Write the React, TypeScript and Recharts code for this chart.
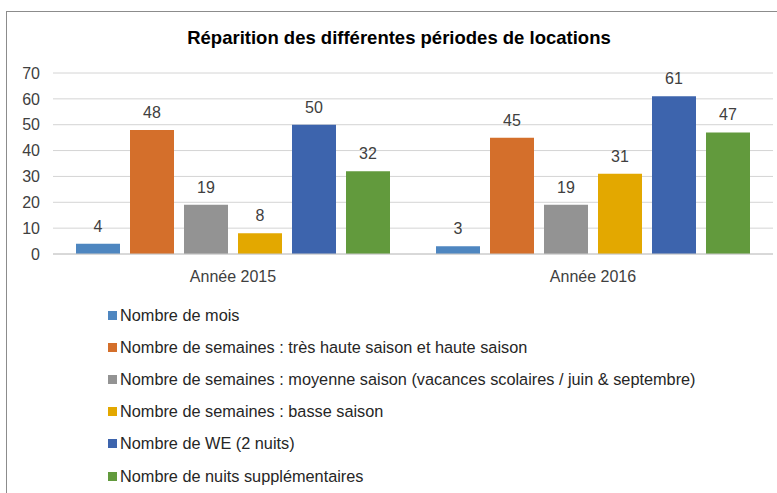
import { BarChart, Bar, XAxis, YAxis, CartesianGrid, Legend, LabelList } from 'recharts'

const annees = ['Année 2015', 'Année 2016']
const nbMois = [4, 3]
const semainesHaute = [48, 45]
const semainesMoyenne = [19, 19]
const semainesBasse = [8, 31]
const weekEnds = [50, 61]
const nuitsSupp = [32, 47]
const yTicks = [0, 10, 20, 30, 40, 50, 60, 70]

const series = [
  { key: 'mois', nom: 'Nombre de mois', valeurs: nbMois, couleur: '#4e86c0' },
  { key: 'haute', nom: 'Nombre de semaines : très haute saison et haute saison', valeurs: semainesHaute, couleur: '#d46f2b' },
  { key: 'moyenne', nom: 'Nombre de semaines : moyenne saison (vacances scolaires / juin & septembre)', valeurs: semainesMoyenne, couleur: '#939393' },
  { key: 'basse', nom: 'Nombre de semaines : basse saison', valeurs: semainesBasse, couleur: '#e3a800' },
  { key: 'we', nom: 'Nombre de WE (2 nuits)', valeurs: weekEnds, couleur: '#3d64ad' },
  { key: 'nuits', nom: 'Nombre de nuits supplémentaires', valeurs: nuitsSupp, couleur: '#629a3d' },
]

const dados = annees.map((annee, i) => {
  const ligne: Record<string, string | number> = { annee }
  series.forEach((s) => {
    ligne[s.key] = s.valeurs[i]
  })
  return ligne
})

const police = '"Liberation Sans", Arial, sans-serif'

function Legende() {
  return (
    <div style={{ fontFamily: police, fontSize: 16.3, color: '#262626' }}>
      {series.map((s) => (
        <div key={s.key} style={{ display: 'flex', alignItems: 'center', height: 32.2 }}>
          <span style={{ width: 9, height: 9, background: s.couleur, marginRight: 3 }} />
          <span>{s.nom}</span>
        </div>
      ))}
    </div>
  )
}

export default function App() {
  return (
    <div style={{ position: 'absolute', left: 0, top: 0, width: 777, height: 493, background: '#fff', overflow: 'hidden' }}>
      <div
        style={{
          position: 'absolute',
          left: 6,
          top: 11,
          width: 780,
          height: 490,
          borderLeft: '1px solid #8c8c8c',
          borderTop: '1px solid #8c8c8c',
        }}
      />
      <div
        style={{
          position: 'absolute',
          top: 27,
          left: 0,
          width: 798,
          textAlign: 'center',
          fontFamily: police,
          fontWeight: 'bold',
          fontSize: 18.5,
          color: '#000',
        }}
      >
        Réparition des différentes périodes de locations
      </div>
      <BarChart
        width={777}
        height={493}
        data={dados}
        margin={{ top: 73, right: 4, bottom: 209, left: 8 }}
        barSize={44}
        barGap={10}
      >
        <CartesianGrid vertical={false} stroke="#d4d4d4" />
        <XAxis
          dataKey="annee"
          height={30}
          tickLine={false}
          axisLine={{ stroke: '#c8c8c8' }}
          tickMargin={11}
          tick={{ fontSize: 16, fill: '#404040', fontFamily: police }}
        />
        <YAxis
          domain={[0, 70]}
          ticks={yTicks}
          width={45}
          axisLine={false}
          tickLine={false}
          tickMargin={7}
          tick={{ fontSize: 16, fill: '#404040', fontFamily: police }}
        />
        <Legend
          layout="vertical"
          verticalAlign="middle"
          align="center"
          wrapperStyle={{ left: 108, top: 299, width: 660 }}
          content={() => <Legende />}
        />
        {series.map((s) => (
          <Bar key={s.key} dataKey={s.key} name={s.nom} fill={s.couleur} isAnimationActive={false}>
            <LabelList
              dataKey={s.key}
              position="top"
              offset={12}
              style={{ fontSize: 16, fill: '#404040', fontFamily: police }}
            />
          </Bar>
        ))}
      </BarChart>
    </div>
  )
}
